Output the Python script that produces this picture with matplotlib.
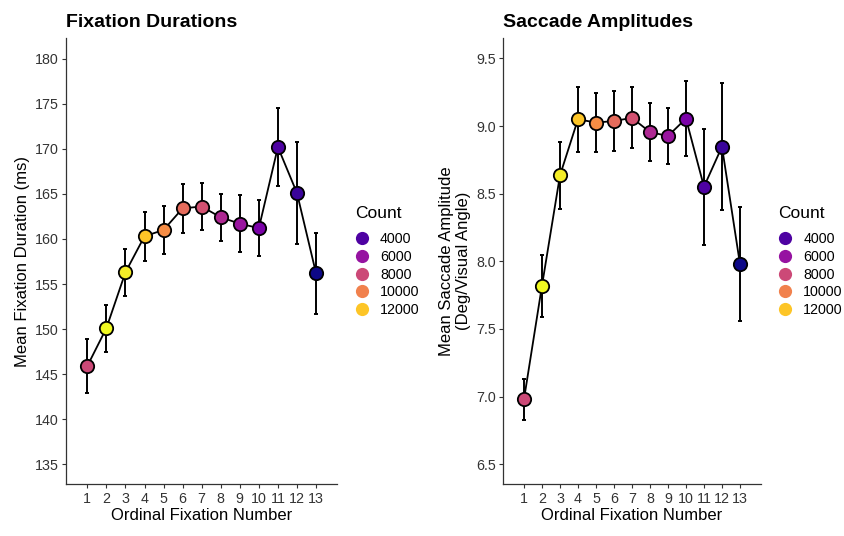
"""Fixation durations and saccade amplitudes by ordinal fixation number."""
import matplotlib
matplotlib.use("Agg")
import matplotlib.pyplot as plt
from matplotlib.colors import Normalize
from matplotlib.lines import Line2D
import numpy as np

plt.rcParams["font.family"] = ["Liberation Sans", "DejaVu Sans"]

fix_num = np.arange(1, 14)
# trial count per ordinal fixation (drives the colour)
counts = [8000, 13300, 13000, 12000, 10400, 9300, 8300, 6800, 6100, 5200, 4000, 3500, 2600]

dur_mean = [145.9, 150.1, 156.3, 160.3, 161.0, 163.4, 163.6, 162.4, 161.7, 161.2, 170.2, 165.1, 156.2]
dur_se = [3.0, 2.6, 2.6, 2.7, 2.65, 2.75, 2.65, 2.6, 3.15, 3.1, 4.3, 5.7, 4.5]

amp_mean = [6.98, 7.82, 8.635, 9.05, 9.025, 9.037, 9.06, 8.955, 8.926, 9.055, 8.551, 8.847, 7.98]
amp_se = [0.15, 0.23, 0.25, 0.24, 0.22, 0.22, 0.225, 0.215, 0.21, 0.275, 0.43, 0.47, 0.42]

legend_counts = [4000, 6000, 8000, 10000, 12000]

cmap = plt.get_cmap("plasma")
norm = Normalize(min(counts), max(counts))
colors = [cmap(norm(c)) for c in counts]

fig = plt.figure(figsize=(8.45, 5.36), dpi=100)
ax1 = fig.add_axes([0.0781, 0.097, 0.3207, 0.832])
ax2 = fig.add_axes([0.5956, 0.097, 0.3046, 0.832])

TXT = "#333333"


def panel(ax, y, err, title, ylabel, ylim, yticks, xlim):
    ax.plot(fix_num, y, color="black", lw=1.3, zorder=2)
    ax.errorbar(fix_num, y, yerr=err, fmt="none", ecolor="black",
                elinewidth=1.4, capsize=1.5, capthick=1.4, zorder=1)
    for xi, yi, c in zip(fix_num, y, colors):
        ax.plot(xi, yi, "o", ms=9.6, mfc=c, mec="black", mew=1.3, zorder=3)
    ax.set_xlim(*xlim)
    ax.set_ylim(*ylim)
    ax.set_xticks(fix_num)
    ax.set_yticks(yticks)
    ax.tick_params(labelsize=10.3, colors=TXT, length=3, width=0.8, pad=2.5)
    for lab in ax.get_xticklabels() + ax.get_yticklabels():
        lab.set_color(TXT)
    for s in ["top", "right"]:
        ax.spines[s].set_visible(False)
    for s in ["left", "bottom"]:
        ax.spines[s].set_linewidth(0.9)
        ax.spines[s].set_color("#333333")
    ax.set_xlabel("Ordinal Fixation Number", fontsize=12, labelpad=1.5)
    ax.set_ylabel(ylabel, fontsize=12, labelpad=3.5)
    ax.set_title(title, loc="left", fontsize=14, fontweight="bold", pad=8)

    handles = [Line2D([], [], ls="none", marker="o", ms=9.5, mec="none",
                      mfc=cmap(norm(c))) for c in legend_counts]
    leg = ax.legend(handles, [str(c) for c in legend_counts], title="Count",
                    loc="upper left", bbox_to_anchor=(1.04, 0.64), frameon=False,
                    fontsize=10.3, title_fontsize=12.5, handletextpad=0.75,
                    labelspacing=0.27, handlelength=1.0, borderpad=0)
    leg._legend_box.align = "left"
    leg._legend_box.sep = 8


panel(ax1, dur_mean, dur_se, "Fixation Durations", "Mean Fixation Duration (ms)",
      (132.8, 182.3), np.arange(135, 181, 5), (-0.12, 14.1))
panel(ax2, amp_mean, amp_se, "Saccade Amplitudes",
      "Mean Saccade Amplitude\n(Deg/Visual Angle)",
      (6.354, 9.65), np.arange(6.5, 9.6, 0.5), (-0.15, 14.15))
ax2.set_yticklabels([f"{v:.1f}" for v in np.arange(6.5, 9.6, 0.5)])

fig.savefig("out.png", dpi=100)
